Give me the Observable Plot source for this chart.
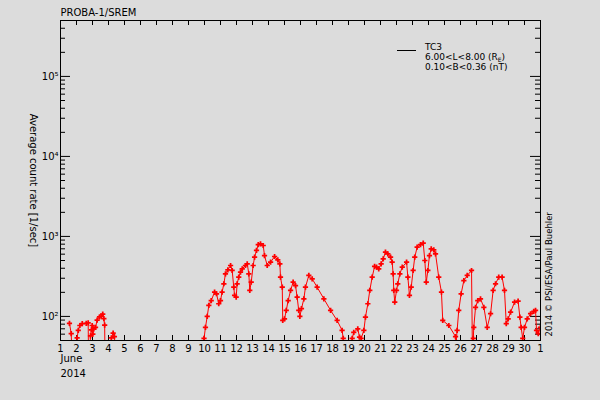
<!DOCTYPE html>
<html><head><meta charset="utf-8">
<script src="https://cdn.jsdelivr.net/npm/d3@7"></script>
<script src="https://cdn.jsdelivr.net/npm/@observablehq/plot@0.6"></script>
<style>
html,body{margin:0;padding:0;background:#dcdcdc;}
#chart{width:600px;height:400px;}
</style>
</head><body><div id="chart"></div>
<script>
// ---- data (day of June 2014, fractional; 31 = 1 July) ----
const days = [
 1.56,1.67,1.72,2.00,2.04,2.11,2.21,2.36,2.61,2.73,2.75,2.81,2.875,2.93,2.98,3.02,3.08,3.19,3.29,3.44,3.55,3.64,3.71,3.76,3.78,
 4.10,4.18,4.29,4.37,4.45,
 9.93,9.97,10.06,10.17,10.27,10.42,10.63,10.75,10.89,11.00,11.10,11.21,11.31,11.46,11.63,11.73,11.83,11.88,11.98,
 12.04,12.14,12.25,12.36,12.56,12.67,12.77,12.83,12.92,13.04,13.13,13.25,13.36,13.50,13.67,13.75,13.92,
 14.13,14.38,14.58,14.71,14.75,14.86,14.89,15.00,15.11,15.23,15.38,15.54,15.69,15.79,15.89,15.96,
 16.06,16.21,16.31,16.52,16.73,17.04,17.46,17.88,18.29,18.60,18.67,18.72,
 19.15,19.23,19.33,19.58,19.69,19.79,19.96,20.06,20.21,20.33,20.48,20.63,20.75,20.89,
 21.04,21.17,21.31,21.46,21.63,21.73,21.79,21.83,21.89,22.00,22.08,22.21,22.36,22.63,22.71,22.81,22.92,
 23.04,23.14,23.29,23.50,23.67,23.77,23.86,23.96,24.06,24.17,24.33,24.44,24.64,24.81,24.89,
 25.27,25.69,25.73,25.79,25.89,26.04,26.21,26.42,26.69,26.75,26.78,26.80,26.83,26.94,
 27.08,27.25,27.46,27.67,27.88,28.04,28.19,28.39,28.60,28.75,28.86,28.98,
 29.13,29.38,29.60,29.71,29.79,29.89,30.00,30.17,30.38,30.58,30.69,30.75,30.86,31.00
];
const counts = [
 82,61,30,30,54,67,77,81,82,83,30,30,57,68,77,60,70,73,90,99,101,107,94,78,30,
 30,54,62,56,30,
 30,53,73,100,137,158,201,192,144,158,201,256,341,383,433,375,232,183,174,
 256,309,357,394,433,455,341,211,268,433,550,667,792,809,770,577,433,
 476,561,510,455,309,232,89,93,119,158,211,268,243,174,119,100,
 125,166,232,325,295,232,166,119,89,67,53,30,
 30,53,63,70,55,53,67,98,144,211,309,421,413,394,
 455,525,635,607,550,476,341,211,151,211,256,341,413,476,309,183,232,
 375,550,733,792,822,500,268,375,577,700,680,607,309,201,89,
 77,56,48,67,119,192,281,325,375,30,30,53,73,130,
 158,166,130,73,108,211,256,309,309,211,81,93,
 113,151,155,98,73,53,73,93,108,116,119,67,61,73
];

// ---- axes / labels ----
const dayTicks = [1,2,3,4,5,6,7,8,9,10,11,12,13,14,15,16,17,18,19,20,21,22,23,24,25,26,27,28,29,30,31];
const dayLabels = ["1","2","3","4","5","6","7","8","9","10","11","12","13","14","15","16","17","18","19","20","21","22","23","24","25","26","27","28","29","30","1"];
const yMajor = [100, 1000, 10000, 100000];
const yMajorLabels = ["10\u00B2","10\u00B3","10\u2074","10\u2075"];
const yMinor = [60,70,80,90,200,300,400,500,600,700,800,900,2000,3000,4000,5000,6000,7000,8000,9000,
  20000,30000,40000,50000,60000,70000,80000,90000,200000,300000,400000];
const title = "PROBA-1/SREM";
const yTitle = "Average count rate [1/sec]";
const monthLabel = "June";
const yearLabel = "2014";
const credit = "2014 \u00A9 PSI/ESA/Paul Buehler";
const legendName = "TC3";

const data = days.map((d, i) => ({day: d, count: counts[i]}));

const W = 480, H = 320;
const plot = Plot.plot({
  width: 600, height: 400,
  marginLeft: 60, marginRight: 60, marginTop: 20, marginBottom: 60,
  style: {background: "#dcdcdc", fontFamily: "DejaVu Sans, sans-serif", fontSize: "10px", color: "black"},
  x: {domain: [1, 31], axis: null},
  y: {type: "log", domain: [50, 500000], axis: null},
  marks: [
    Plot.frame({stroke: "black"}),
    // x ticks bottom & top
    Plot.ruleX(dayTicks, {x: d => d, insetTop: H - 5, stroke: "black"}),
    Plot.ruleX(dayTicks, {x: d => d, insetBottom: H - 5, stroke: "black"}),
    // y ticks left & right
    Plot.ruleY(yMajor, {y: d => d, insetRight: W - 10, stroke: "black"}),
    Plot.ruleY(yMinor, {y: d => d, insetRight: W - 5, stroke: "black"}),
    Plot.ruleY(yMajor, {y: d => d, insetLeft: W - 10, stroke: "black"}),
    Plot.ruleY(yMinor, {y: d => d, insetLeft: W - 5, stroke: "black"}),
    // tick labels
    Plot.text(dayTicks, {x: d => d, text: (d, i) => dayLabels[i], frameAnchor: "bottom", lineAnchor: "middle", dy: 8}),
    Plot.text(yMajor, {y: d => d, text: (d, i) => yMajorLabels[i], frameAnchor: "left", textAnchor: "end", lineAnchor: "middle", dx: -2}),
    // data
    Plot.line(data, {x: "day", y: "count", stroke: "#ff0000", strokeWidth: 1, clip: true}),
    Plot.dot(data, {x: "day", y: "count", symbol: "cross", r: 2.2, fill: "#ff0000", stroke: "none", clip: true}),
    // titles
    Plot.text([title], {frameAnchor: "top-left", textAnchor: "start", lineAnchor: "middle", dy: -8}),
    Plot.text([monthLabel], {frameAnchor: "bottom-left", textAnchor: "start", lineAnchor: "middle", dy: 18}),
    Plot.text([yearLabel], {frameAnchor: "bottom-left", textAnchor: "start", lineAnchor: "middle", dy: 33}),
    Plot.text([yTitle], {frameAnchor: "left", textAnchor: "middle", lineAnchor: "middle", dx: -27, rotate: 90}),
    Plot.text([credit], {frameAnchor: "bottom-right", textAnchor: "start", lineAnchor: "middle", rotate: -90, dx: 9, dy: -4, fontSize: 8.5})
  ]
});

document.getElementById("chart").appendChild(plot);

// legend
const svg = d3.select(plot);
const lg = svg.append("g")
  .attr("font-family", "DejaVu Sans, sans-serif")
  .attr("font-size", 9)
  .attr("fill", "black")
  .attr("text-anchor", "start");
lg.append("line").attr("x1", 397).attr("x2", 416).attr("y1", 50.5).attr("y2", 50.5).attr("stroke", "black");
lg.append("text").attr("x", 425).attr("y", 47).attr("dy", "0.32em").text(legendName);
const t2 = lg.append("text").attr("x", 425).attr("y", 57).attr("dy", "0.32em");
t2.append("tspan").text("6.00<L<8.00 (R");
t2.append("tspan").attr("font-size", 6).attr("dy", 2).text("E");
t2.append("tspan").attr("dy", -2).text(")");
lg.append("text").attr("x", 425).attr("y", 67).attr("dy", "0.32em").text("0.10<B<0.36 (nT)");
</script></body></html>
